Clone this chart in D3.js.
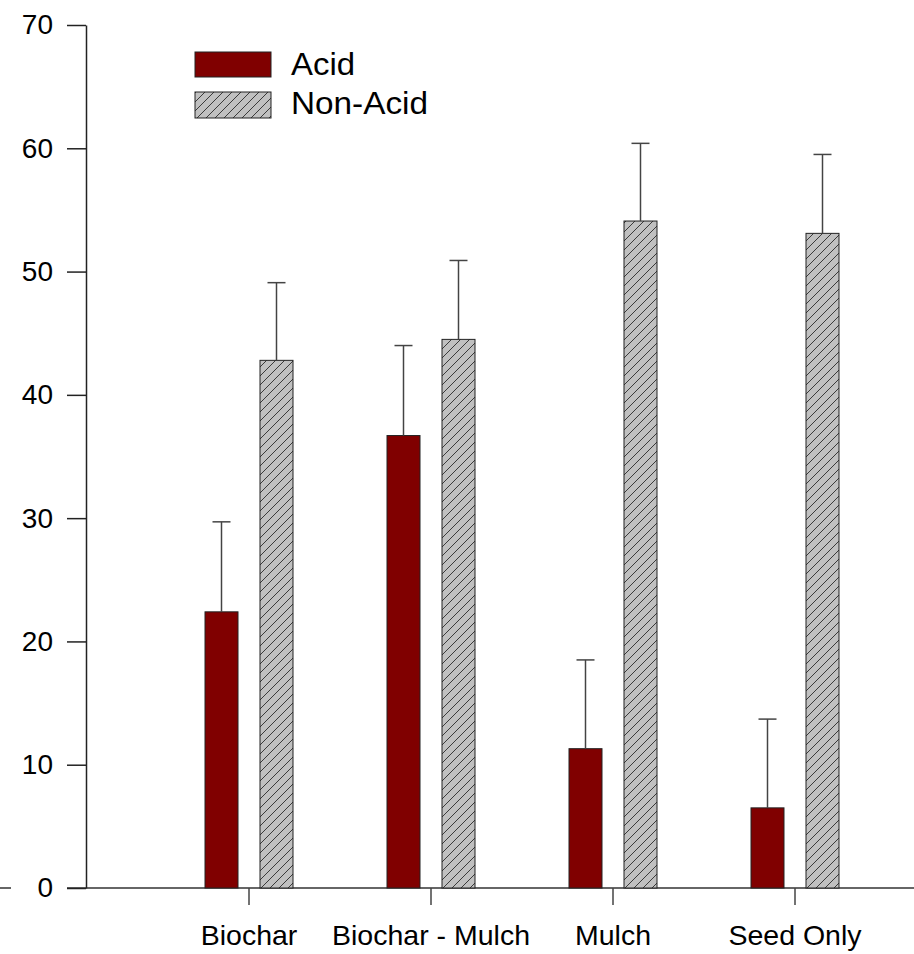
<!DOCTYPE html>
<html>
<head>
<meta charset="utf-8">
<script src="https://cdn.jsdelivr.net/npm/d3@7"></script>
<style>
  html, body { margin: 0; padding: 0; background: #fff; }
  svg { display: block; font-family: Arial, "Liberation Sans", sans-serif; }
</style>
</head>
<body>
<svg id="chart" width="914" height="954"></svg>
<script>
// Treatments along the x axis
const categories = ["Biochar", "Biochar - Mulch", "Mulch", "Seed Only"];
const seriesNames = ["Acid", "Non-Acid"];
// Means and standard errors per treatment
const acidValues = [22.4, 36.7, 11.3, 6.5];
const acidErrors = [7.3, 7.3, 7.2, 7.2];
const nonAcidValues = [42.8, 44.5, 54.1, 53.1];
const nonAcidErrors = [6.3, 6.4, 6.3, 6.4];
const yTicks = [0, 10, 20, 30, 40, 50, 60, 70];

const svg = d3.select("#chart");
const W = 914;
const axisX = 86, y0 = 888, yTop = 25;

// Hatch pattern for the Non-Acid series
const defs = svg.append("defs");
const pat = defs.append("pattern")
  .attr("id", "hatch")
  .attr("patternUnits", "userSpaceOnUse")
  .attr("width", 9).attr("height", 9);
pat.append("rect").attr("width", 9).attr("height", 9).attr("fill", "#c0c0c0");
pat.append("path")
  .attr("d", "M-2,11 L11,-2 M-11,11 L2,-2 M7,20 L20,7")
  .attr("stroke", "#3a3a3a").attr("stroke-width", 1);

const series = [
  { name: "Acid", values: acidValues, errors: acidErrors, fill: "#800000" },
  { name: "Non-Acid", values: nonAcidValues, errors: nonAcidErrors, fill: "url(#hatch)" }
];

const x = d3.scaleBand().domain(categories).range([158, 886]);
const inner = d3.scaleBand().domain(seriesNames).range([-44, 44]).paddingInner(0.4).paddingOuter(0);
const y = d3.scaleLinear().domain([0, 70]).range([y0, yTop]);

// Horizontal baseline across the full width
svg.append("line")
  .attr("x1", 0).attr("x2", W).attr("y1", y(0)).attr("y2", y(0))
  .attr("stroke", "#333").attr("stroke-width", 1.5);

// Bars
const groups = svg.selectAll("g.cat")
  .data(categories)
  .join("g")
  .attr("class", "cat")
  .attr("transform", d => `translate(${x(d) + x.bandwidth() / 2},0)`);

series.forEach(s => {
  groups.append("rect")
    .attr("x", inner(s.name))
    .attr("width", inner.bandwidth())
    .attr("y", (d, i) => y(s.values[i]))
    .attr("height", (d, i) => y(0) - y(s.values[i]))
    .attr("fill", s.fill)
    .attr("stroke", "#222")
    .attr("stroke-width", 1);
});

// Upper error bars
series.forEach(s => {
  const cx = inner(s.name) + inner.bandwidth() / 2;
  groups.append("line")
    .attr("x1", cx).attr("x2", cx)
    .attr("y1", (d, i) => y(s.values[i]))
    .attr("y2", (d, i) => y(s.values[i] + s.errors[i]))
    .attr("stroke", "#444").attr("stroke-width", 1.5);
  groups.append("line")
    .attr("x1", cx - 9).attr("x2", cx + 9)
    .attr("y1", (d, i) => y(s.values[i] + s.errors[i]))
    .attr("y2", (d, i) => y(s.values[i] + s.errors[i]))
    .attr("stroke", "#444").attr("stroke-width", 1.5);
});

// Y axis
const yAxis = svg.append("g")
  .attr("transform", `translate(${axisX},0)`)
  .call(d3.axisLeft(y).tickValues(yTicks).tickSize(19).tickPadding(14).tickSizeOuter(0));
yAxis.select(".domain").attr("stroke", "#222").attr("stroke-width", 1.5);
yAxis.selectAll(".tick line").attr("stroke", "#222").attr("stroke-width", 1.5);
yAxis.selectAll(".tick text")
  .attr("font-size", 28).attr("fill", "#000")
  .attr("font-family", "Arial, 'Liberation Sans', sans-serif");
// Clear the baseline behind the zero label
yAxis.selectAll(".tick").filter(d => d === 0)
  .insert("rect", "text")
  .attr("x", -75).attr("y", -6).attr("width", 56).attr("height", 12).attr("fill", "#fff");

// X axis (category ticks and labels)
const xAxis = svg.append("g")
  .attr("transform", `translate(0,${y0})`)
  .call(d3.axisBottom(x).tickSize(17).tickPadding(20).tickSizeOuter(0));
xAxis.select(".domain").remove();
xAxis.selectAll(".tick line").attr("stroke", "#444").attr("stroke-width", 1.5);
xAxis.selectAll(".tick text")
  .attr("font-size", 28.5).attr("fill", "#000")
  .attr("font-family", "Arial, 'Liberation Sans', sans-serif");

// Legend
const legend = svg.append("g");
const legendRows = [
  { name: "Acid", fill: "#800000", y: 52, h: 25, ty: 75 },
  { name: "Non-Acid", fill: "url(#hatch)", y: 92, h: 26, ty: 114 }
];
legendRows.forEach(r => {
  legend.append("rect")
    .attr("x", 195).attr("y", r.y).attr("width", 76).attr("height", r.h)
    .attr("fill", r.fill).attr("stroke", "#222").attr("stroke-width", 1);
  legend.append("text")
    .attr("x", 291).attr("y", r.ty)
    .attr("font-size", 32).attr("fill", "#000")
    .attr("textLength", r.name === "Acid" ? 64 : 137)
    .attr("lengthAdjust", "spacingAndGlyphs")
    .text(r.name);
});
</script>
</body>
</html>
